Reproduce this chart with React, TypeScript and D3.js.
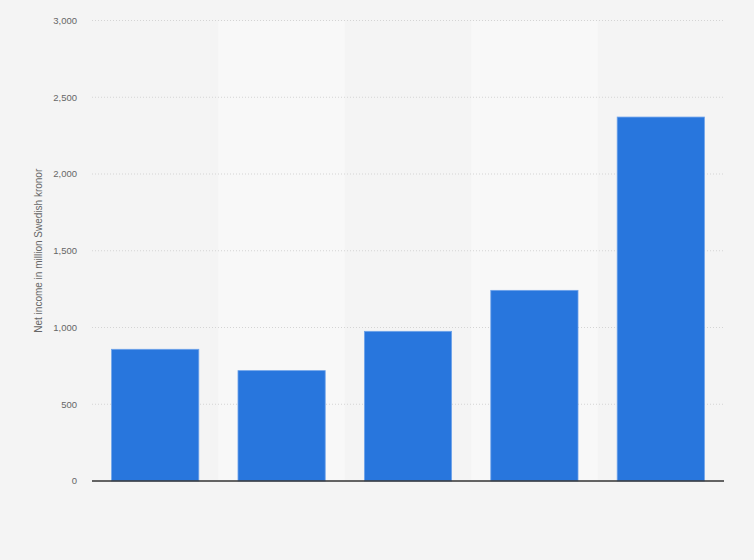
import React from "react";
import * as d3 from "d3";

const categories = ["2017", "2018", "2019", "2020", "2021"];
const values = [858, 719, 975, 1242, 2371];
const yTicks = [0, 500, 1000, 1500, 2000, 2500, 3000];
const yLabel = "Net income in million Swedish kronor";

const W = 754;
const H = 560;
const margin = { left: 92, right: 30, top: 20.5, bottom: 79 };

export default function App() {
  const x = d3
    .scaleBand<string>()
    .domain(categories)
    .range([margin.left, W - margin.right])
    .paddingInner(0.31)
    .paddingOuter(0.155);
  const bands = d3
    .scaleBand<string>()
    .domain(categories)
    .range([margin.left, W - margin.right])
    .padding(0);
  const y = d3
    .scaleLinear()
    .domain([0, 3000])
    .range([H - margin.bottom, margin.top]);
  const fmt = d3.format(",");
  const font = "Liberation Sans, Arial, sans-serif";

  return (
    <svg
      width={W}
      height={H}
      style={{ position: "absolute", left: 0, top: 0, display: "block" }}
    >
      <rect x={0} y={0} width={W} height={H} fill="#f4f4f4" />
      {categories.map((c, i) =>
        i % 2 === 1 ? (
          <rect
            key={"b" + c}
            x={bands(c)!}
            y={y(3000)}
            width={bands.bandwidth()}
            height={y(0) - y(3000)}
            fill="#f8f8f8"
          />
        ) : null
      )}
      {yTicks.map((t) => (
        <g key={t}>
          {t !== 0 && (
            <line
              x1={margin.left}
              x2={W - margin.right}
              y1={y(t)}
              y2={y(t)}
              stroke="#d4d4d4"
              strokeWidth={1}
              strokeDasharray="1,2"
            />
          )}
          <text
            x={77}
            y={y(t)}
            dy="0.35em"
            textAnchor="end"
            fontFamily={font}
            fontSize={9.5}
            fill="#666"
          >
            {fmt(t)}
          </text>
        </g>
      ))}
      {categories.map((c, i) => (
        <rect
          key={c}
          x={x(c)!}
          y={y(values[i])}
          width={x.bandwidth()}
          height={y(0) - y(values[i])}
          fill="#2876dd"
          stroke="#6ea3ea"
          strokeWidth={0.8}
        />
      ))}
      <line
        x1={margin.left}
        x2={W - margin.right}
        y1={y(0)}
        y2={y(0)}
        stroke="#333"
        strokeWidth={1.3}
      />
      <text
        transform={`translate(42,${(y(0) + y(3000)) / 2}) rotate(-90)`}
        textAnchor="middle"
        fontFamily={font}
        fontSize={10}
        fill="#666"
      >
        {yLabel}
      </text>
    </svg>
  );
}
